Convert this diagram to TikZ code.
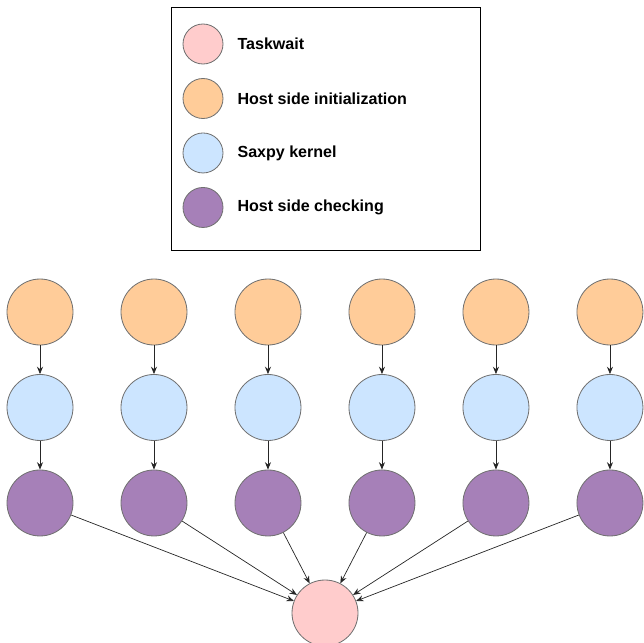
\documentclass[tikz,border=0pt]{standalone}
\usepackage{fontspec}
\setmainfont{Liberation Sans}
\usetikzlibrary{shapes,arrows.meta,positioning}

\definecolor{hostinit}{HTML}{FFCC99}
\definecolor{saxpy}{HTML}{CCE5FF}
\definecolor{hostcheck}{HTML}{A680B8}
\definecolor{taskwait}{HTML}{FFCCCC}
\definecolor{rim}{HTML}{707070}

\begin{document}
\begin{tikzpicture}[%
      x=0.03cm, y=-0.03cm,               % one unit = one pixel of the sketch
      >={Stealth[length=2.2mm,width=1.8mm]},
      node distance=0.86cm and 1.415cm,  % spacing of the task circles
      font=\fontsize{13.7}{16}\selectfont\bfseries
      ]
  \tikzset{
    task/.style={draw=rim, circle, line width=0.7pt, minimum size=1.98cm, inner sep=0pt},
    key/.style={draw=rim, circle, line width=0.7pt, minimum size=1.2cm, inner sep=0pt},
    keytext/.style={right=0.3cm of #1, anchor=west},
    link/.style={->, draw=black!85, line width=0.6pt}}
  \useasboundingbox (0,0) rectangle (643,643);

  % legend
  \node [draw, line width=0.8pt, minimum width=9.27cm, minimum height=7.29cm] (legend) at (325.5,128.5) {};
  \node [key, fill=taskwait] (ktw) at (203,44) {};
  \node [key, fill=hostinit, below=0.41cm of ktw] (ki) {};
  \node [key, fill=saxpy, below=0.41cm of ki] (kk) {};
  \node [key, fill=hostcheck, below=0.41cm of kk] (kc) {};
  \node [keytext=ktw] (ttw) {Taskwait};
  \node [keytext=ki] (ti) {Host side initialization};
  \node [keytext=kk] (tk) {Saxpy kernel};
  \node [keytext=kc] (tc) {Host side checking};

  % host side initialization
  \node [task, fill=hostinit] (i1) at (40,312) {};
  \node [task, fill=hostinit, right=of i1] (i2) {};
  \node [task, fill=hostinit, right=of i2] (i3) {};
  \node [task, fill=hostinit, right=of i3] (i4) {};
  \node [task, fill=hostinit, right=of i4] (i5) {};
  \node [task, fill=hostinit, right=of i5] (i6) {};

  % saxpy kernels
  \node [task, fill=saxpy, below=of i1] (k1) {};
  \node [task, fill=saxpy, below=of i2] (k2) {};
  \node [task, fill=saxpy, below=of i3] (k3) {};
  \node [task, fill=saxpy, below=of i4] (k4) {};
  \node [task, fill=saxpy, below=of i5] (k5) {};
  \node [task, fill=saxpy, below=of i6] (k6) {};

  % host side checking
  \node [task, fill=hostcheck, below=of k1] (c1) {};
  \node [task, fill=hostcheck, below=of k2] (c2) {};
  \node [task, fill=hostcheck, below=of k3] (c3) {};
  \node [task, fill=hostcheck, below=of k4] (c4) {};
  \node [task, fill=hostcheck, below=of k5] (c5) {};
  \node [task, fill=hostcheck, below=of k6] (c6) {};

  % taskwait
  \node [task, fill=taskwait] (tw) at (325,613) {};

  \draw[link] (i1) -- (k1);
  \draw[link] (i2) -- (k2);
  \draw[link] (i3) -- (k3);
  \draw[link] (i4) -- (k4);
  \draw[link] (i5) -- (k5);
  \draw[link] (i6) -- (k6);

  \draw[link] (k1) -- (c1);
  \draw[link] (k2) -- (c2);
  \draw[link] (k3) -- (c3);
  \draw[link] (k4) -- (c4);
  \draw[link] (k5) -- (c5);
  \draw[link] (k6) -- (c6);

  \draw[link] (c1) -- (tw);
  \draw[link] (c2) -- (tw);
  \draw[link] (c3) -- (tw);
  \draw[link] (c4) -- (tw);
  \draw[link] (c5) -- (tw);
  \draw[link] (c6) -- (tw);
\end{tikzpicture}
\end{document}
